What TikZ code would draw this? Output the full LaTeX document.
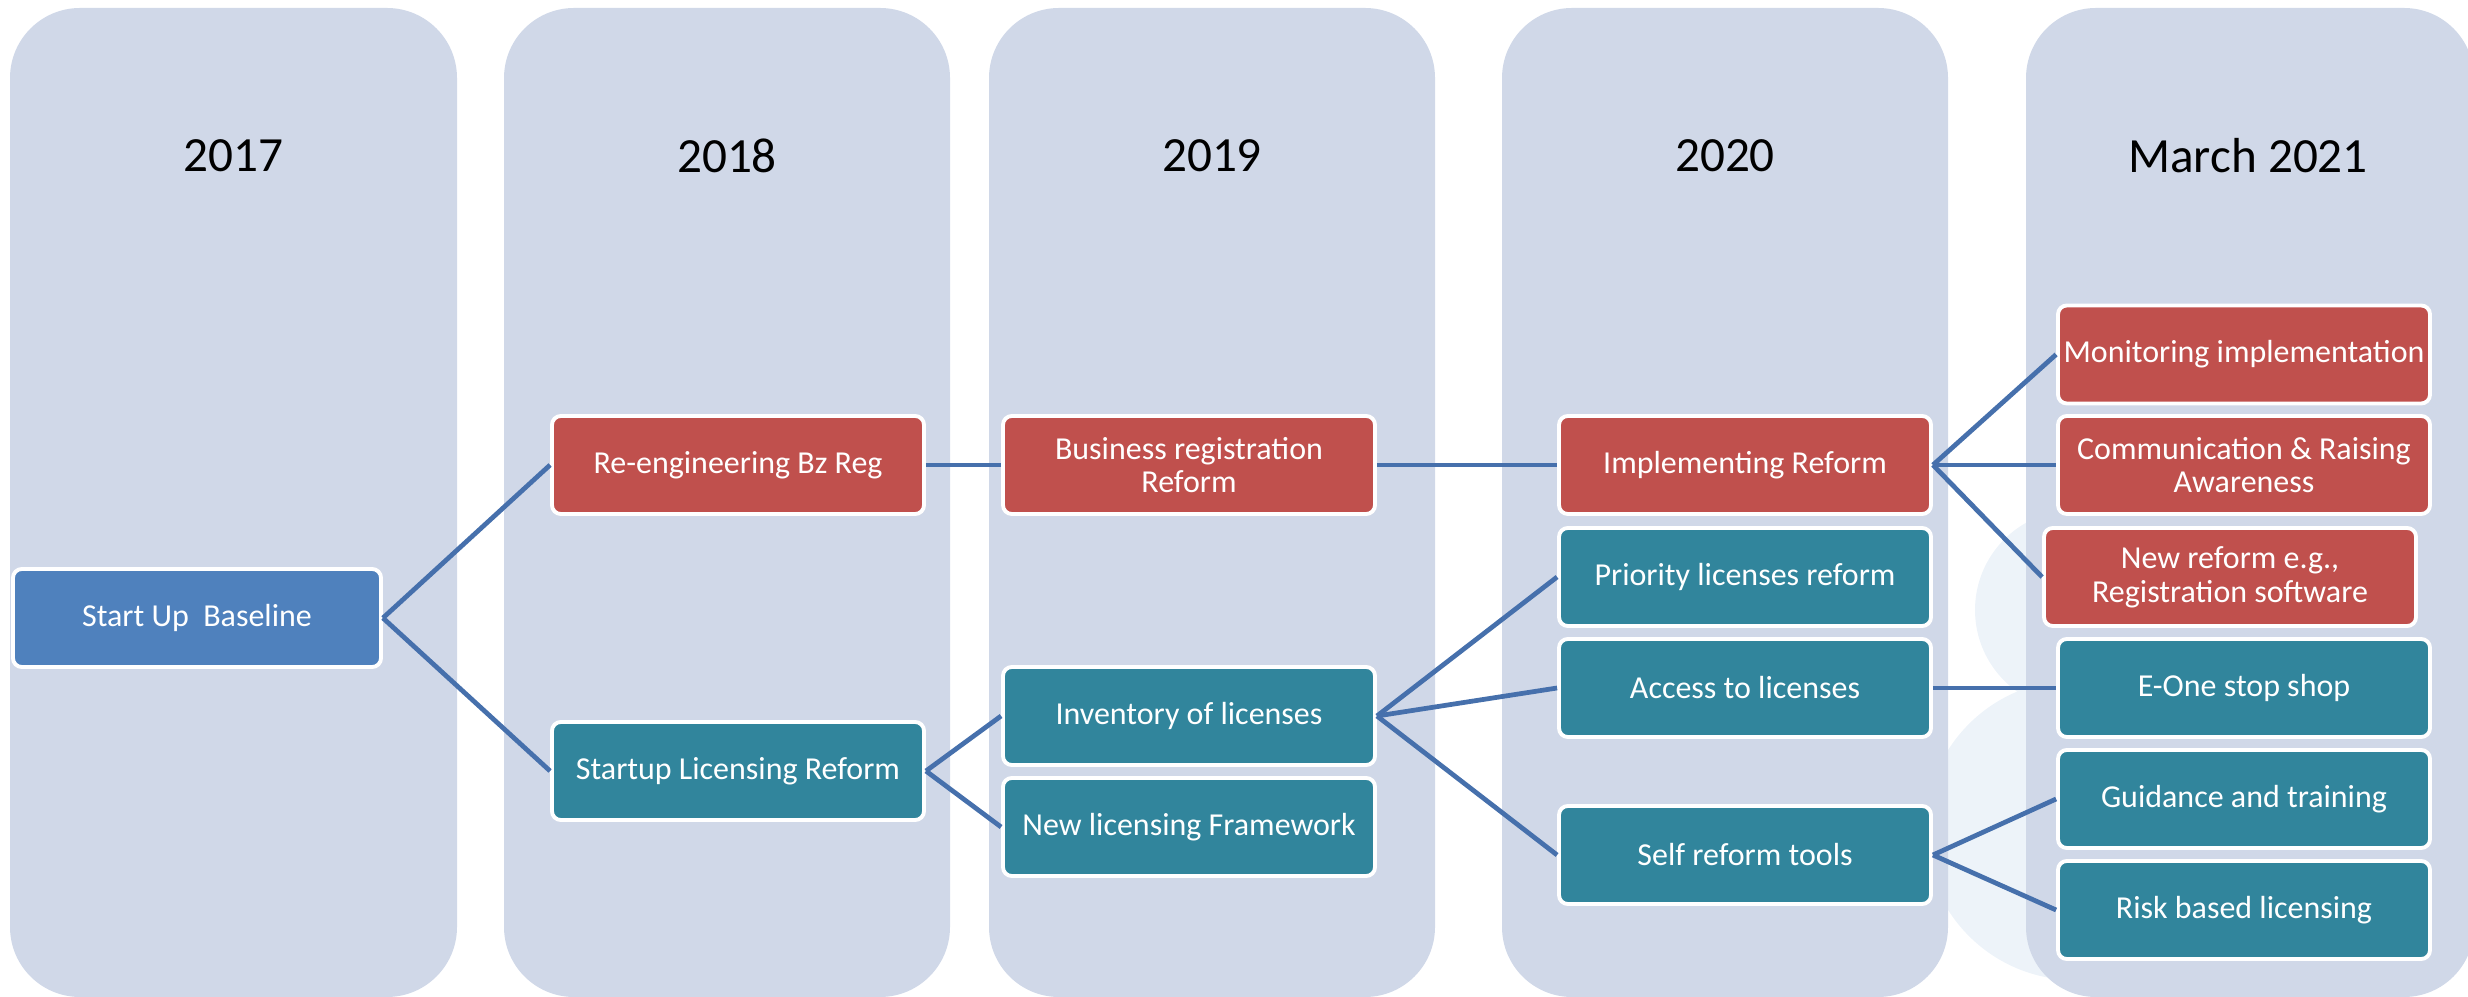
\documentclass[tikz,border=0pt]{standalone}
\usepackage{fontspec}
\setmainfont{Carlito}
\usetikzlibrary{positioning}
\definecolor{lanefill}{HTML}{D0D8E8}
\definecolor{regred}{HTML}{C0504D}
\definecolor{licteal}{HTML}{31859C}
\definecolor{baseblue}{HTML}{4F81BD}
\definecolor{linkblue}{HTML}{4670AC}
\definecolor{wmark}{HTML}{EDF3F9}
\begin{document}
\begin{tikzpicture}[x=1cm, y=-1cm, font=\fontsize{9.1}{9.6}\selectfont,
    lane/.style = {fill=lanefill, rounded corners=7mm},
    year/.style = {font=\fontsize{14}{16}\selectfont},
    box/.style = {draw=white, line width=1.1pt, rounded corners=2.5pt, text=white, align=center, minimum width=3.72cm, minimum height=0.98cm, inner sep=0pt},
    redbox/.style = {box, fill=regred},
    tealbox/.style = {box, fill=licteal},
    link/.style = {draw=linkblue, line width=1.35pt}]
                \useasboundingbox (0,0) rectangle (24.68,9.97);
                % faint watermark behind the lanes
                \fill[wmark] (20.75,6.1) circle (1.0);
                \fill[wmark] (20.75,8.3) circle (1.5);
                % year lanes
                \fill[lane] (0.10,0.08) rectangle (4.57,9.97);
                \fill[lane] (5.04,0.08) rectangle (9.50,9.97);
                \fill[lane] (9.89,0.08) rectangle (14.35,9.97);
                \fill[lane] (15.02,0.08) rectangle (19.48,9.97);
                \fill[lane] (20.26,0.08) rectangle (24.74,9.97);
                \node[year] (y17) at (2.335,1.56) {2017};
                \node[year] (y18) at (7.27,1.56) {2018};
                \node[year] (y19) at (12.12,1.56) {2019};
                \node[year] (y20) at (17.25,1.56) {2020};
                \node[year] (y21) at (22.48,1.56) {March 2021};
                % steps
                \node[box, fill=baseblue, minimum width=3.68cm] (base) at (1.97,6.18) {Start Up\ \ Baseline};
                \node[redbox] (reeng) at (7.38,4.65) {Re-engineering Bz Reg};
                \node[tealbox] (lic) at (7.38,7.71) {Startup Licensing Reform};
                \node[redbox] (bizreg) at (11.89,4.65) {Business registration\\Reform};
                \node[tealbox] (inv) at (11.89,7.16) {Inventory of licenses};
                \node[tealbox] (newfw) at (11.89,8.27) {New licensing Framework};
                \node[redbox] (impl) at (17.45,4.65) {Implementing Reform};
                \node[tealbox] (prio) at (17.45,5.77) {Priority licenses reform};
                \node[tealbox] (access) at (17.45,6.88) {Access to licenses};
                \node[tealbox] (self) at (17.45,8.55) {Self reform tools};
                \node[redbox] (mon) at (22.44,3.545) {Monitoring implementation};
                \node[redbox] (comm) at (22.44,4.65) {Communication \& Raising\\Awareness};
                \node[redbox] (newref) at (22.30,5.77) {New reform e.g.,\\Registration software};
                \node[tealbox] (eone) at (22.44,6.88) {E-One stop shop};
                \node[tealbox] (guide) at (22.44,7.99) {Guidance and training};
                \node[tealbox] (risk) at (22.44,9.10) {Risk based licensing};
                % links
                \draw[link] (base.east) -- (reeng.west);
                \draw[link] (base.east) -- (lic.west);
                \draw[link] (reeng.east) -- (bizreg.west);
                \draw[link] (bizreg.east) -- (impl.west);
                \draw[link] (lic.east) -- (inv.west);
                \draw[link] (lic.east) -- (newfw.west);
                \draw[link] (inv.east) -- (prio.west);
                \draw[link] (inv.east) -- (access.west);
                \draw[link] (inv.east) -- (self.west);
                \draw[link] (impl.east) -- (mon.west);
                \draw[link] (impl.east) -- (comm.west);
                \draw[link] (impl.east) -- (newref.west);
                \draw[link] (access.east) -- (eone.west);
                \draw[link] (self.east) -- (guide.west);
                \draw[link] (self.east) -- (risk.west);
            \end{tikzpicture}
\end{document}
